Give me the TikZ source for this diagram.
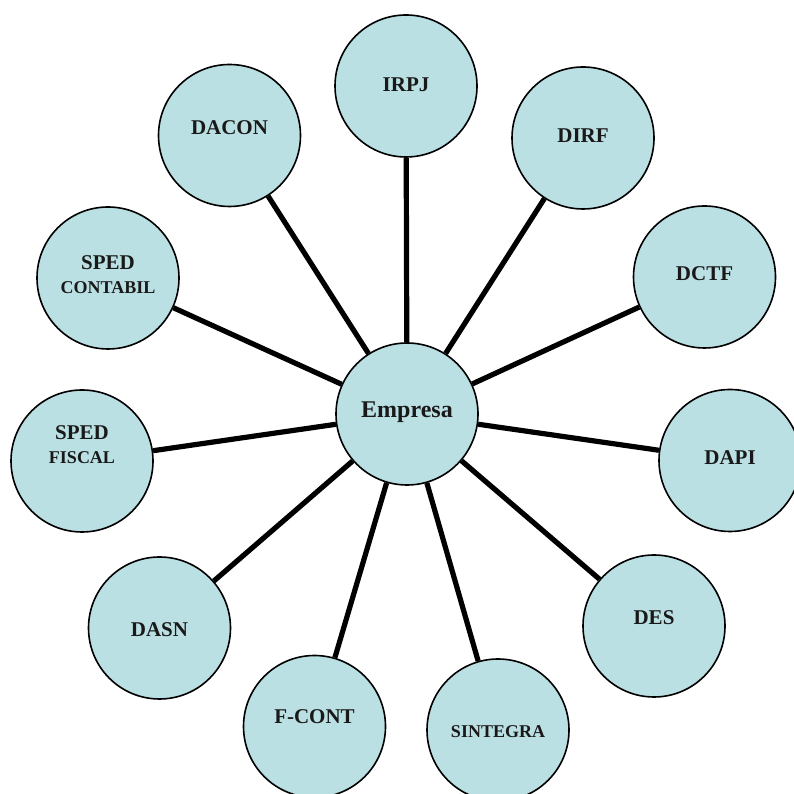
\documentclass[tikz,border=0pt]{standalone}
\usepackage{fontspec}
\setmainfont{Liberation Serif}
\definecolor{cfill}{HTML}{BBE0E3}
\tikzset{
  every picture/.style={x=1pt, y=1pt},
  bubble/.style={circle, draw=black, fill=cfill, line width=1.6pt, minimum size=142pt, inner sep=0pt},
  tag/.style={font=\bfseries\fontsize{21}{24}\selectfont, align=center, text=black!90},
  spoke/.style={draw=black, line width=5.2pt},
}
\newcommand{\smalltag}[1]{{\fontsize{18}{22}\selectfont #1}}

\begin{document}
\begin{tikzpicture}
  \useasboundingbox (0,0) rectangle (794,794);

  % hub
  \node[bubble, label={[tag, font=\bfseries\fontsize{24}{28}\selectfont, yshift=2pt]center:Empresa}] (emp) at (407,380) {};

  % outer ring
  \node[bubble, label={[tag, yshift=1pt]center:IRPJ}] (irpj) at (406,708) {};
  \node[bubble, label={[tag, yshift=2pt]center:DIRF}] (dirf) at (583,656) {};
  \node[bubble, label={[tag, yshift=3pt]center:DCTF}] (dctf) at (704.5,517) {};
  \node[bubble, label={[tag, yshift=2.5pt]center:DAPI}] (dapi) at (730,333.5) {};
  \node[bubble, label={[tag, yshift=8pt]center:DES}] (des) at (654,168) {};
  \node[bubble, label={[tag, yshift=-2pt]center:\smalltag{SINTEGRA}}] (sintegra) at (498,64) {};
  \node[bubble, label={[tag, yshift=10pt]center:F-CONT}] (fcont) at (314.5,67.5) {};
  \node[bubble, label={[tag, yshift=-2pt]center:DASN}] (dasn) at (159.5,166) {};
  \node[bubble, label={[tag, yshift=16.5pt]center:SPED\\\smalltag{FISCAL}}] (fiscal) at (82,333) {};
  \node[bubble, label={[tag, yshift=3pt]center:SPED\\\smalltag{CONTABIL}}] (contabil) at (108,516) {};
  \node[bubble, label={[tag, yshift=7.5pt]center:DACON}] (dacon) at (229.5,658.5) {};

  % spokes
  \foreach \n in {irpj,dirf,dctf,dapi,des,sintegra,fcont,dasn,fiscal,contabil,dacon}
    \draw[spoke] (emp) -- (\n);
\end{tikzpicture}
\end{document}
